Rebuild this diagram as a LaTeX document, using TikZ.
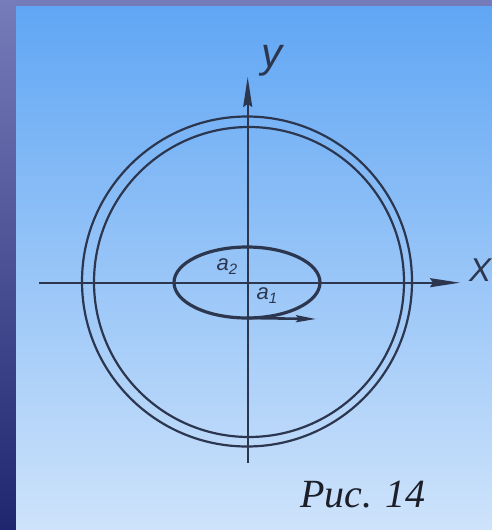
\documentclass[tikz,border=0pt]{standalone}
\usepackage{fontspec}
\newfontfamily\drawfont{Liberation Sans}
\newfontfamily\capfont{Liberation Serif}
\usetikzlibrary{arrows.meta}
\definecolor{ink}{RGB}{44,54,78}
\definecolor{capink}{RGB}{28,30,40}
\definecolor{paneltop}{RGB}{96,166,244}
\definecolor{panelbot}{RGB}{206,227,251}
\definecolor{frametop}{RGB}{118,124,186}
\definecolor{framebot}{RGB}{32,38,110}

\begin{document}
\begin{tikzpicture}[x=1pt,y=-1pt,line width=2pt,>=Stealth,
  axis/.style={draw=ink,line width=1.8pt,
    -{Stealth[length=30pt,width=9pt,inset=3pt]}},
  ring/.style={draw=ink,line width=2.2pt},
  lab/.style={text=ink,inner sep=0pt,font=\drawfont\itshape}]
\useasboundingbox (0,0) rectangle (492,530);
% 背景（深色边框 + 渐变面板）
\shade[top color=frametop,bottom color=framebot] (0,0) rectangle (492,530);
\shade[top color=paneltop,bottom color=panelbot] (16,6) rectangle (492,530);
% 坐标轴端点
\coordinate (xl) at (39,282.7);
\coordinate (xr) at (460,282.7);
\coordinate (yb) at (247.7,463);
\coordinate (yt) at (247.7,77);
\draw[axis] (xl) -- (xr);
\draw[axis] (yb) -- (yt);
% 两个同心圆
\draw[ring] (247,281.5) circle (165);
\draw[ring] (249,282) circle (155);
% 椭圆与方向箭头
\draw[draw=ink,line width=3.2pt] (247,282.5) ellipse [x radius=73,y radius=35.5];
\coordinate (eb) at (247,318);
\coordinate (ae) at (316,319);
\draw[draw=ink,line width=2.6pt,-{Stealth[length=20pt,width=7pt,inset=3pt]}]
  (eb) -- (ae);
% 标注
\node[lab,font=\drawfont\itshape\fontsize{42}{42}\selectfont] (ylab) at (272,61) {y};
\node[lab,font=\drawfont\itshape\fontsize{33}{33}\selectfont] (xlab) at (480,270) {X};
\node[lab,font=\drawfont\itshape\fontsize{22}{22}\selectfont] (atwo) at (227,267)
  {a\raisebox{-0.35ex}{\fontsize{15}{15}\selectfont 2}};
\node[lab,font=\drawfont\itshape\fontsize{22}{22}\selectfont] (aone) at (267,296)
  {a\raisebox{-0.35ex}{\fontsize{15}{15}\selectfont 1}};
\node[text=capink,inner sep=0pt,anchor=base,
  font=\capfont\itshape\fontsize{40}{40}\selectfont] (cap) at (363,507) {Рис. 14};
\end{tikzpicture}
\end{document}
